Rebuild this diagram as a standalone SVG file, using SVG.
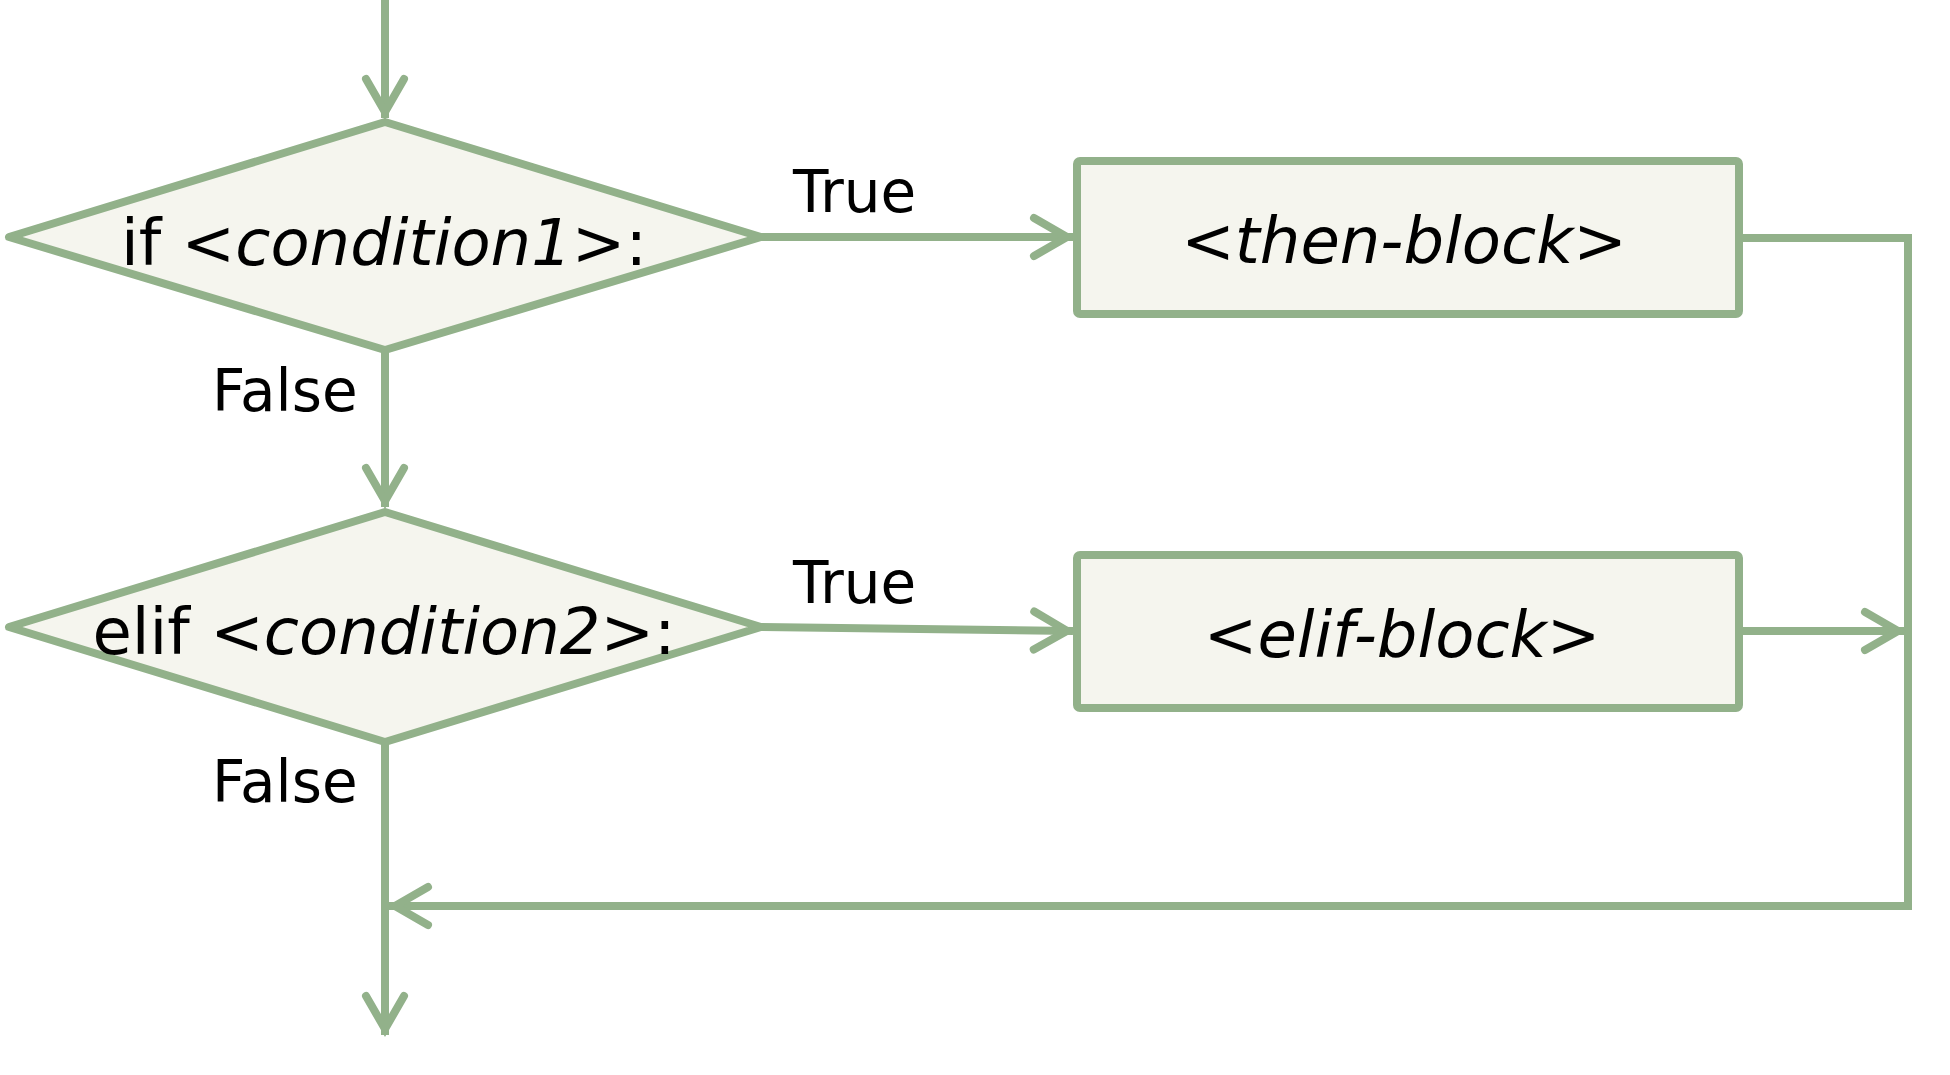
<svg xmlns="http://www.w3.org/2000/svg" width="1950" height="1075" viewBox="0 0 1950 1075">
<style>
.shape{fill:#F5F5EE;stroke:#92B18A;stroke-width:8;stroke-linejoin:round}
.conn{fill:none;stroke:#92B18A;stroke-width:8;stroke-linejoin:miter;stroke-linecap:butt}
.t{font-family:"DejaVu Sans","Liberation Sans",sans-serif;fill:#000}
.main{font-size:64px}
.lbl{font-size:58px}
.it{font-style:italic}
</style>
<defs>
<marker id="arr" markerUnits="userSpaceOnUse" viewBox="-45 -30 50 60" refX="0" refY="0" markerWidth="50" markerHeight="60" orient="auto" overflow="visible">
<path d="M-39,-19 L-6,0 L-39,19" fill="none" stroke="#92B18A" stroke-width="8" stroke-linecap="round" stroke-linejoin="miter"/>
</marker>
</defs>
<rect width="1950" height="1075" fill="#FFFFFF"/>
<g id="connectors">
<path class="conn" d="M385,0 V118" marker-end="url(#arr)"/>
<path class="conn" d="M385,350 V507" marker-end="url(#arr)"/>
<path class="conn" d="M761,237 H1073" marker-end="url(#arr)"/>
<path class="conn" d="M761,627 L1073,631" marker-end="url(#arr)"/>
<path class="conn" d="M1739,238 H1908 V906 H389" marker-end="url(#arr)"/>
<path class="conn" d="M1739,631 H1904" marker-end="url(#arr)"/>
<path class="conn" d="M385,742 V1035" marker-end="url(#arr)"/>
</g>
<g id="cond1">
<polygon class="shape" points="385,122 761,237 385,350 9,237"/>
<text class="t main" x="384" y="265" text-anchor="middle">if &lt;<tspan class="it">condition1</tspan>&gt;:</text>
</g>
<g id="cond2">
<polygon class="shape" points="385,512 761,627 385,742 9,627"/>
<text class="t main" x="384" y="654" text-anchor="middle">elif &lt;<tspan class="it">condition2</tspan>&gt;:</text>
</g>
<g id="then-block">
<rect class="shape" x="1077" y="161" width="662" height="153" rx="3"/>
<text class="t main" x="1404" y="263" text-anchor="middle">&lt;<tspan class="it">then-block</tspan>&gt;</text>
</g>
<g id="elif-block">
<rect class="shape" x="1077" y="555" width="662" height="153" rx="3"/>
<text class="t main" x="1402" y="657" text-anchor="middle">&lt;<tspan class="it">elif-block</tspan>&gt;</text>
</g>
<g id="labels">
<text class="t lbl" x="793" y="212">True</text>
<text class="t lbl" x="793" y="603">True</text>
<text class="t lbl" x="212" y="411">False</text>
<text class="t lbl" x="212" y="802">False</text>
</g>
</svg>
